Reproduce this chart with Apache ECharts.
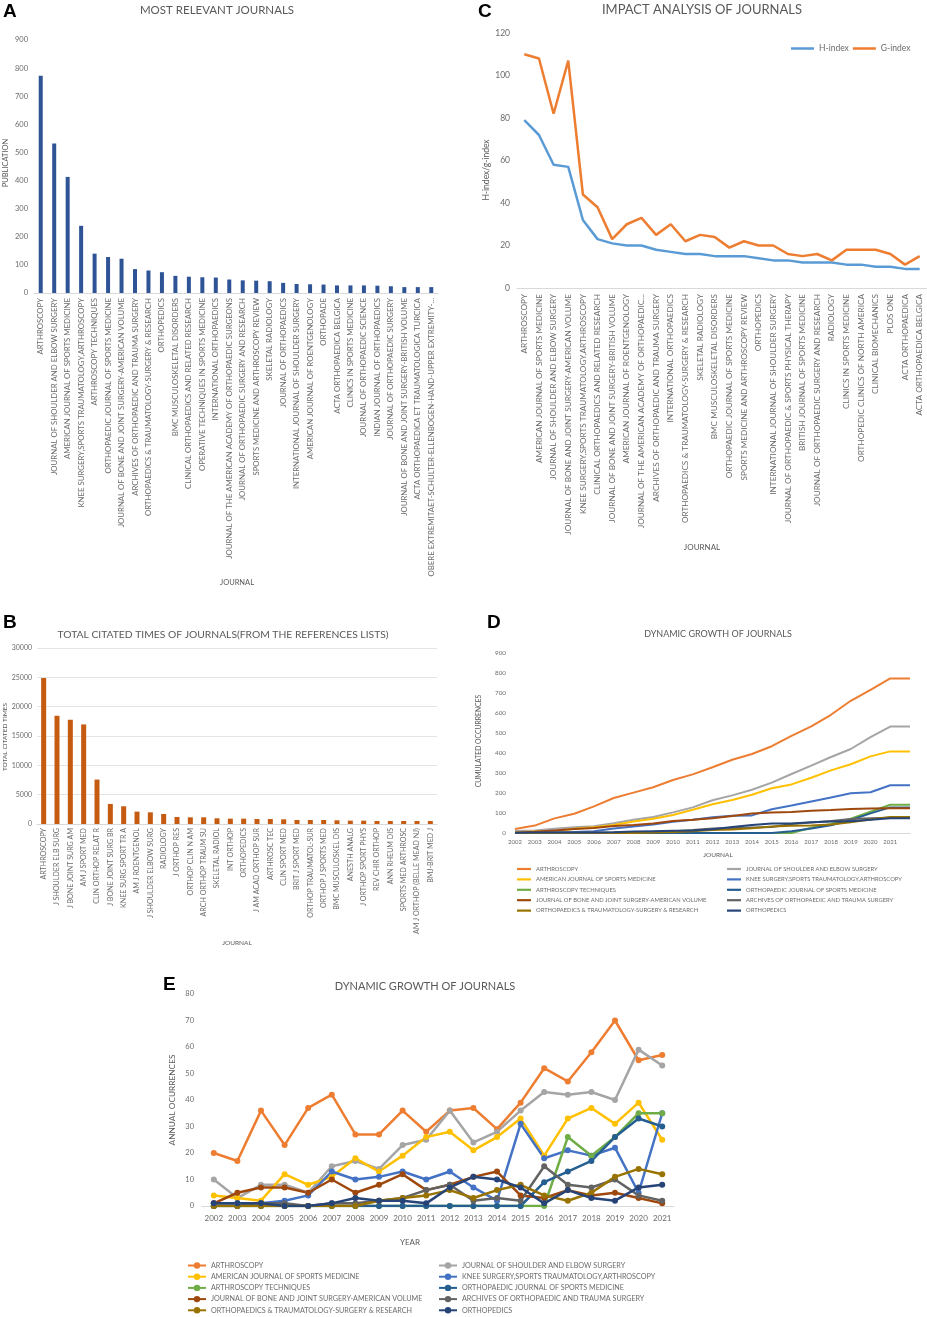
<!DOCTYPE html>
<html><head><meta charset="utf-8">
<script src="https://cdn.jsdelivr.net/npm/echarts@6/dist/echarts.min.js"></script>
<style>
html,body{margin:0;padding:0;background:#fff;width:927px;height:1317px;overflow:hidden;}
.c{position:absolute;left:0;top:0;width:927px;height:1317px;}
</style></head><body>
<div id="ca" class="c"></div>
<div id="cb" class="c"></div>
<div id="cc" class="c"></div>
<div id="cd" class="c"></div>
<div id="ce" class="c"></div>
<script>
// ---------- Panel A ----------
const journalsA = ['ARTHROSCOPY','JOURNAL OF SHOULDER AND ELBOW SURGERY','AMERICAN JOURNAL OF SPORTS MEDICINE','KNEE SURGERY,SPORTS TRAUMATOLOGY,ARTHROSCOPY','ARTHROSCOPY TECHNIQUES','ORTHOPAEDIC JOURNAL OF SPORTS MEDICINE','JOURNAL OF BONE AND JOINT SURGERY-AMERICAN VOLUME','ARCHIVES OF ORTHOPAEDIC AND TRAUMA SURGERY','ORTHOPAEDICS & TRAUMATOLOGY-SURGERY & RESEARCH','ORTHOPEDICS','BMC MUSCULOSKELETAL DISORDERS','CLINICAL ORTHOPAEDICS AND RELATED RESEARCH','OPERATIVE TECHNIQUES IN SPORTS MEDICINE','INTERNATIONAL ORTHOPAEDICS','JOURNAL OF THE AMERICAN ACADEMY OF ORTHOPAEDIC SURGEONS','JOURNAL OF ORTHOPAEDIC SURGERY AND RESEARCH','SPORTS MEDICINE AND ARTHROSCOPY REVIEW','SKELETAL RADIOLOGY','JOURNAL OF ORTHOPAEDICS','INTERNATIONAL JOURNAL OF SHOULDER SURGERY','AMERICAN JOURNAL OF ROENTGENOLOGY','ORTHOPADE','ACTA ORTHOPAEDICA BELGICA','CLINICS IN SPORTS MEDICINE','JOURNAL OF ORTHOPAEDIC SCIENCE','INDIAN JOURNAL OF ORTHOPAEDICS','JOURNAL OF ORTHOPAEDIC SURGERY','JOURNAL OF BONE AND JOINT SURGERY-BRITISH VOLUME','ACTA ORTHOPAEDICA ET TRAUMATOLOGICA TURCICA','OBERE EXTREMITAET-SCHULTER-ELLENBOGEN-HAND-UPPER EXTREMITY-...'];
const publicationsA = [773,532,413,239,140,128,122,85,80,74,61,58,56,55,48,45,44,42,36,32,31,30,27,27,27,26,24,21,21,21];

// ---------- Panel B ----------
const journalsB = ['ARTHROSCOPY','J SHOULDER ELB SURG','J BONE JOINT SURG AM','AM J SPORT MED','CLIN ORTHOP RELAT R','J BONE JOINT SURG BR','KNEE SURG SPORT TR A','AM J ROENTGENOL','J SHOULDER ELBOW SURG','RADIOLOGY','J ORTHOP RES','ORTHOP CLIN N AM','ARCH ORTHOP TRAUM SU','SKELETAL RADIOL','INT ORTHOP','ORTHOPEDICS','J AM ACAD ORTHOP SUR','ARTHROSC TEC','CLIN SPORT MED','BRIT J SPORT MED','ORTHOP TRAUMATOL-SUR','ORTHOP J SPORTS MED','BMC MUSCULOSKEL DIS','ANESTH ANALG','J ORTHOP SPORT PHYS','REV CHIR ORTHOP','ANN RHEUM DIS','SPORTS MED ARTHROSC','AM J ORTHOP (BELLE MEAD NJ)','BMJ-BRIT MED J'];
const citationsB = [24900,18450,17770,16970,7570,3420,3020,2110,1990,1710,1200,1140,1140,970,910,910,850,850,800,680,680,680,630,570,570,510,510,510,510,510];

// ---------- Panel C ----------
const journalsC = ['ARTHROSCOPY','AMERICAN JOURNAL OF SPORTS MEDICINE','JOURNAL OF SHOULDER AND ELBOW SURGERY','JOURNAL OF BONE AND JOINT SURGERY-AMERICAN VOLUME','KNEE SURGERY,SPORTS TRAUMATOLOGY,ARTHROSCOPY','CLINICAL ORTHOPAEDICS AND RELATED RESEARCH','JOURNAL OF BONE AND JOINT SURGERY-BRITISH VOLUME','AMERICAN JOURNAL OF ROENTGENOLOGY','JOURNAL OF THE AMERICAN ACADEMY OF ORTHOPAEDIC...','ARCHIVES OF ORTHOPAEDIC AND TRAUMA SURGERY','INTERNATIONAL ORTHOPAEDICS','ORTHOPAEDICS & TRAUMATOLOGY-SURGERY & RESEARCH','SKELETAL RADIOLOGY','BMC MUSCULOSKELETAL DISORDERS','ORTHOPAEDIC JOURNAL OF SPORTS MEDICINE','SPORTS MEDICINE AND ARTHROSCOPY REVIEW','ORTHOPEDICS','INTERNATIONAL JOURNAL OF SHOULDER SURGERY','JOURNAL OF ORTHOPAEDIC & SPORTS PHYSICAL THERAPY','BRITISH JOURNAL OF SPORTS MEDICINE','JOURNAL OF ORTHOPAEDIC SURGERY AND RESEARCH','RADIOLOGY','CLINICS IN SPORTS MEDICINE','ORTHOPEDIC CLINICS OF NORTH AMERICA','CLINICAL BIOMECHANICS','PLOS ONE','ACTA ORTHOPAEDICA','ACTA ORTHOPAEDICA BELGICA'];
const hIndexC = [79,72,58,57,32,23,21,20,20,18,17,16,16,15,15,15,14,13,13,12,12,12,11,11,10,10,9,9];
const gIndexC = [110,108,82,107,44,38,23,30,33,25,30,22,25,24,19,22,20,20,16,15,16,13,18,18,18,16,11,15];

// ---------- Panels D / E ----------
const yearLabelsD = ['2002','2003','2004','2005','2006','2007','2008','2009','2010','2011','2012','2013','2014','2015','2016','2017','2018','2019','2020','2021',''];
const yearsE = ['2002','2003','2004','2005','2006','2007','2008','2009','2010','2011','2012','2013','2014','2015','2016','2017','2018','2019','2020','2021'];
const seriesNames = ['ARTHROSCOPY','JOURNAL OF SHOULDER AND ELBOW SURGERY','AMERICAN JOURNAL OF SPORTS MEDICINE','KNEE SURGERY,SPORTS TRAUMATOLOGY,ARTHROSCOPY','ARTHROSCOPY TECHNIQUES','ORTHOPAEDIC JOURNAL OF SPORTS MEDICINE','JOURNAL OF BONE AND JOINT SURGERY-AMERICAN VOLUME','ARCHIVES OF ORTHOPAEDIC AND TRAUMA SURGERY','ORTHOPAEDICS & TRAUMATOLOGY-SURGERY & RESEARCH','ORTHOPEDICS'];

const cumArthroscopy = [20,37,73,96,133,175,202,229,265,293,329,366,395,434,486,533,591,661,716,773,773];
const cumJSES        = [10,13,21,29,34,49,66,80,103,128,164,188,216,252,295,337,380,420,479,532,532];
const cumAJSM        = [4,7,9,21,29,40,58,71,90,116,144,165,191,224,243,276,313,344,383,408,408];
const cumKSSTA       = [1,2,3,5,9,22,32,43,56,66,79,86,88,119,137,158,177,199,204,239,239];
const cumArthTech    = [0,0,0,0,0,0,0,0,0,0,0,0,0,0,0,26,45,71,106,141,141];
const cumOJSM        = [0,0,0,0,0,0,0,0,0,0,0,0,0,0,9,22,39,65,98,128,128];
const cumJBJS        = [1,6,13,20,25,35,40,48,60,66,74,85,98,102,105,111,115,120,123,124,124];
const cumArchives    = [0,0,1,2,2,3,4,6,9,15,23,25,28,30,45,53,60,70,74,76,76];
const cumOTSR        = [0,0,0,0,0,0,0,2,5,9,15,18,24,32,36,38,43,54,68,80,80];
const cumOrthopedics = [1,2,3,3,3,4,7,9,11,12,19,30,40,47,48,54,57,59,66,74,74];

const annArthroscopy = [20,17,36,23,37,42,27,27,36,28,36,37,29,39,52,47,58,70,55,57];
const annJSES        = [10,3,8,8,5,15,17,14,23,25,36,24,28,36,43,42,43,40,59,53];
const annAJSM        = [4,3,2,12,8,11,18,13,19,26,28,21,26,33,19,33,37,31,39,25];
const annKSSTA       = [1,1,1,2,4,13,10,11,13,10,13,7,2,31,18,21,19,22,5,35];
const annArthTech    = [0,0,0,0,0,0,0,0,0,0,0,0,0,0,0,26,19,26,35,35];
const annOJSM        = [0,0,0,0,0,0,0,0,0,0,0,0,0,0,9,13,17,26,33,30];
const annJBJS        = [1,5,7,7,5,10,5,8,12,6,8,11,13,4,3,6,4,5,3,1];
const annArchives    = [0,0,1,1,0,1,1,2,3,6,8,2,3,2,15,8,7,10,4,2];
const annOTSR        = [0,0,0,0,0,0,0,2,3,4,6,3,6,8,4,2,5,11,14,12];
const annOrthopedics = [1,1,1,0,0,1,3,2,2,1,7,11,10,7,1,6,3,2,7,8];

const seriesColors = ['#ED7D31','#A5A5A5','#FFC000','#4472C4','#70AD47','#255E91','#9E480E','#636363','#997300','#264478'];

const cumData = [cumArthroscopy,cumJSES,cumAJSM,cumKSSTA,cumArthTech,cumOJSM,cumJBJS,cumArchives,cumOTSR,cumOrthopedics];
const annData = [annArthroscopy,annJSES,annAJSM,annKSSTA,annArthTech,annOJSM,annJBJS,annArchives,annOTSR,annOrthopedics];

const FONT = 'Lato';
const TITLE = '#595959';
const LBL = '#6b6b6b';

function t(text, x, y, size, o) {
  o = o || {};
  return {
    type: 'text', x: x, y: y, rotation: o.rot || 0, silent: true,
    style: {
      text: text, fill: o.color || TITLE,
      font: (o.weight || 'normal') + ' ' + size + 'px ' + (o.family || FONT),
      textAlign: o.align || 'center', textVerticalAlign: 'middle'
    }
  };
}
function letter(ch, x, y) { return t(ch, x, y, 19, {weight: 'bold', family: '"Liberation Sans", Arial', color: '#000', align: 'left'}); }
const ROT = Math.PI / 2;
const plain = v => String(v);

function catAxis(data, o) {
  return Object.assign({
    type: 'category', data: data,
    axisLine: {lineStyle: {color: '#d9d9d9', width: 1}},
    axisTick: {show: false},
    axisLabel: {interval: 0, color: LBL, fontFamily: FONT}
  }, o);
}
function valAxis(max, interval, o) {
  return Object.assign({
    type: 'value', min: 0, max: max, interval: interval,
    axisLine: {show: false}, axisTick: {show: false},
    splitLine: {show: false},
    axisLabel: {color: LBL, fontFamily: FONT, formatter: plain}
  }, o);
}

// ---- Chart A ----
echarts.init(document.getElementById('ca')).setOption({
  animation: false,
  graphic: [
    letter('A', 3, 12),
    t('MOST RELEVANT JOURNALS', 217, 10, 11.5),
    t('PUBLICATION', 6, 163, 7.5, {rot: ROT}),
    t('JOURNAL', 237, 583, 7.5)
  ],
  grid: {left: 34, right: 489, top: 40, bottom: 1024},
  xAxis: catAxis(journalsA, {axisLabel: {interval: 0, rotate: 90, fontSize: 7.8, margin: 5, color: LBL, fontFamily: FONT}}),
  yAxis: valAxis(900, 100, {axisLabel: {fontSize: 7.5, margin: 6, color: LBL, fontFamily: FONT, formatter: plain}}),
  series: [{type: 'bar', data: publicationsA, barWidth: 4, itemStyle: {color: '#2F5496'}}]
});

// ---- Chart B ----
echarts.init(document.getElementById('cb')).setOption({
  animation: false,
  graphic: [
    letter('B', 3, 623),
    t('TOTAL CITATED TIMES OF JOURNALS(FROM THE REFERENCES LISTS)', 223, 635, 10.3),
    t('TOTAL CITATED TIMES', 5, 737, 6.5, {rot: ROT}),
    t('JOURNAL', 237, 943, 6.5)
  ],
  grid: {left: 37, right: 490, top: 648, bottom: 493},
  xAxis: catAxis(journalsB, {axisLabel: {interval: 0, rotate: 90, fontSize: 7.1, margin: 4, color: LBL, fontFamily: FONT}}),
  yAxis: valAxis(30000, 5000, {splitLine: {show: true, lineStyle: {color: '#e4e4e4'}}, axisLabel: {fontSize: 7, margin: 5, color: LBL, fontFamily: FONT, formatter: plain}}),
  series: [{type: 'bar', data: citationsB, barWidth: 5, itemStyle: {color: '#C55A11'}}]
});

// ---- Chart C ----
echarts.init(document.getElementById('cc')).setOption({
  animation: false,
  graphic: [
    letter('C', 478, 12),
    t('IMPACT ANALYSIS OF JOURNALS', 702, 10, 13),
    t('H-index/g-index', 486, 170, 8.5, {rot: ROT}),
    t('JOURNAL', 702, 547, 8)
  ],
  legend: {left: 786, top: 39, itemWidth: 23, itemHeight: 2.5, itemGap: 4, icon: 'rect',
           textStyle: {fontSize: 8.5, color: LBL, fontFamily: FONT},
           data: ['H-index', 'G-index']},
  grid: {left: 517, right: 0, top: 33, bottom: 1029},
  xAxis: catAxis(journalsC, {axisLabel: {interval: 0, rotate: 90, fontSize: 8.2, margin: 6, color: LBL, fontFamily: FONT}}),
  yAxis: valAxis(120, 20, {axisLabel: {fontSize: 8.5, margin: 7, color: LBL, fontFamily: FONT, formatter: plain}}),
  series: [
    {name: 'H-index', type: 'line', data: hIndexC, symbol: 'none', lineStyle: {width: 2.5, color: '#5B9BD5'}, itemStyle: {color: '#5B9BD5'}},
    {name: 'G-index', type: 'line', data: gIndexC, symbol: 'none', lineStyle: {width: 2.5, color: '#ED7D31'}, itemStyle: {color: '#ED7D31'}}
  ]
});

// ---- Chart D ----
const leftNames = [seriesNames[0], seriesNames[2], seriesNames[4], seriesNames[6], seriesNames[8]];
const rightNames = [seriesNames[1], seriesNames[3], seriesNames[5], seriesNames[7], seriesNames[9]];
function legD(left) {
  return {orient: 'vertical', left: left, top: 866, padding: 0, itemWidth: 14, itemHeight: 2.2, itemGap: 4.4, icon: 'rect',
          textStyle: {fontSize: 5.8, color: LBL, fontFamily: FONT}, data: left < 600 ? leftNames : rightNames};
}
echarts.init(document.getElementById('cd')).setOption({
  animation: false,
  graphic: [
    letter('D', 487, 623),
    t('DYNAMIC GROWTH OF JOURNALS', 718, 634, 9),
    t('CUMULATED OCCURRENCES', 479, 741, 6.8, {rot: ROT}),
    t('JOURNAL', 718, 855, 6.5)
  ],
  legend: [legD(517), legD(727)],
  grid: {left: 515, right: 17, top: 653, bottom: 484},
  xAxis: catAxis(yearLabelsD, {boundaryGap: false, axisLabel: {interval: 0, fontSize: 6, margin: 6, color: LBL, fontFamily: FONT}}),
  yAxis: valAxis(900, 100, {axisLabel: {fontSize: 6.3, margin: 9, color: LBL, fontFamily: FONT, formatter: plain}}),
  series: seriesNames.map((n, i) => ({
    name: n, type: 'line', data: cumData[i], symbol: 'none',
    lineStyle: {width: 2, color: seriesColors[i]}, itemStyle: {color: seriesColors[i]}
  }))
});

// ---- Chart E ----
function legE(left) {
  return {orient: 'vertical', left: left, top: 1262, height: 56, padding: 0, itemWidth: 18, itemHeight: 8, itemGap: 4.2,
          textStyle: {fontSize: 7.2, color: LBL, fontFamily: FONT}, data: left < 300 ? leftNames : rightNames};
}
echarts.init(document.getElementById('ce')).setOption({
  animation: false,
  graphic: [
    letter('E', 163, 985),
    t('DYNAMIC GROWTH OF JOURNALS', 425, 986, 11),
    t('ANNUAL OCURRENCES', 172, 1100, 8.3, {rot: ROT}),
    t('YEAR', 410, 1242, 8)
  ],
  legend: [legE(187), legE(438)],
  grid: {left: 202, right: 253, top: 994, bottom: 111},
  xAxis: catAxis(yearsE, {boundaryGap: true, axisLabel: {interval: 0, fontSize: 8, margin: 8, color: LBL, fontFamily: FONT}}),
  yAxis: valAxis(80, 10, {axisLabel: {fontSize: 7.5, margin: 8, color: LBL, fontFamily: FONT, formatter: plain}}),
  series: seriesNames.map((n, i) => ({
    name: n, type: 'line', data: annData[i], symbol: 'circle', symbolSize: 6,
    lineStyle: {width: 2.5, color: seriesColors[i]}, itemStyle: {color: seriesColors[i]}
  }))
});
</script>
</body></html>
